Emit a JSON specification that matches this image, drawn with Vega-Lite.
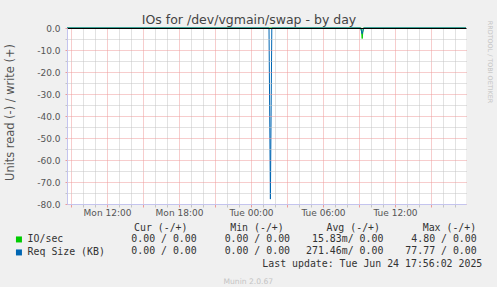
{
  "$schema": "https://vega.github.io/schema/vega-lite/v6.json",
  "width": 399,
  "height": 176,
  "autosize": {"type": "none"},
  "padding": {"left": 67, "top": 28, "right": 31, "bottom": 83},
  "background": "#f0f0f0",
  "title": {
    "text": "IOs for /dev/vgmain/swap - by day",
    "font": "DejaVu Sans",
    "fontSize": 12.5,
    "fontWeight": "normal",
    "color": "#444444",
    "anchor": "middle",
    "frame": "group",
    "dx": -17.5,
    "dy": 18,
    "offset": 2,
    "baseline": "alphabetic"
  },
  "config": {
    "font": "DejaVu Sans",
    "view": {"stroke": null, "fill": "#ffffff"}
  },
  "resolve": {"scale": {"x": "independent", "y": "independent"}},
  "layer": [
    {
      "data": {
        "values": [
          {"t": "2025-06-23T08:40:00Z", "series": "IO/sec", "v": 0},
          {"t": "2025-06-24T09:11:00Z", "series": "IO/sec", "v": 0},
          {"t": "2025-06-24T09:16:00Z", "series": "IO/sec", "v": -4.8},
          {"t": "2025-06-24T09:21:00Z", "series": "IO/sec", "v": 0},
          {"t": "2025-06-24T17:55:00Z", "series": "IO/sec", "v": 0},
          {"t": "2025-06-23T08:40:00Z", "series": "Req Size (KB)", "v": 0},
          {"t": "2025-06-24T01:30:00Z", "series": "Req Size (KB)", "v": 0},
          {"t": "2025-06-24T01:37:00Z", "series": "Req Size (KB)", "v": -77.77},
          {"t": "2025-06-24T01:44:00Z", "series": "Req Size (KB)", "v": 0},
          {"t": "2025-06-24T09:08:00Z", "series": "Req Size (KB)", "v": 0},
          {"t": "2025-06-24T09:16:00Z", "series": "Req Size (KB)", "v": -2.6},
          {"t": "2025-06-24T09:24:00Z", "series": "Req Size (KB)", "v": 0},
          {"t": "2025-06-24T17:55:00Z", "series": "Req Size (KB)", "v": 0}
        ]
      },
      "mark": {"type": "line", "strokeWidth": 1},
      "encoding": {
        "x": {
          "field": "t",
          "type": "temporal",
          "scale": {"type": "utc", "domain": [1750668000000, 1750787700000], "nice": false},
          "axis": {
            "values": [1750669200000, 1750672800000, 1750676400000, 1750680000000, 1750683600000, 1750687200000, 1750690800000, 1750694400000, 1750698000000, 1750701600000, 1750705200000, 1750708800000, 1750712400000, 1750716000000, 1750719600000, 1750723200000, 1750726800000, 1750730400000, 1750734000000, 1750737600000, 1750741200000, 1750744800000, 1750748400000, 1750752000000, 1750755600000, 1750759200000, 1750762800000, 1750766400000, 1750770000000, 1750773600000, 1750777200000, 1750780800000, 1750784400000],
            "zindex": 1,
            "grid": true,
            "gridColor": {"condition": {"test": "utchours(datum.value) % 3 === 0", "value": "#ee9a9a"}, "value": "#c4c4c4"},
            "gridDash": [1, 1],
            "gridWidth": 1,
            "ticks": true,
            "tickSize": 3,
            "tickColor": {"condition": {"test": "utchours(datum.value) % 3 === 0", "value": "#ee9a9a"}, "value": "#c4c4c4"},
            "domain": true,
            "domainColor": "#c4c4ee",
            "domainWidth": 1,
            "labelExpr": "utchours(datum.value) % 6 === 0 ? utcFormat(datum.value, '%a %H:%M') : ''",
            "labelFont": "DejaVu Sans",
            "labelFontSize": 9,
            "labelColor": "#555555",
            "labelPadding": 1,
            "labelOverlap": false,
            "labelFlush": false,
            "labelBound": false,
            "title": "Munin 2.0.67",
            "titleFont": "DejaVu Sans",
            "titleFontSize": 7.6,
            "titleFontWeight": "normal",
            "titleColor": "#c4c4c4",
            "titleX": 180.8,
            "titleY": 77,
            "titleAlign": "center",
            "titleBaseline": "middle"
          }
        },
        "y": {
          "field": "v",
          "type": "quantitative",
          "scale": {"domain": [-80, 0], "nice": false, "zero": false},
          "axis": {
            "values": [-80, -75, -70, -65, -60, -55, -50, -45, -40, -35, -30, -25, -20, -15, -10, -5, 0],
            "zindex": 1,
            "grid": true,
            "gridColor": {"condition": [{"test": "datum.value === 0", "value": "#000000"}, {"test": "datum.value % 10 === 0", "value": "#ee9a9a"}], "value": "#c4c4c4"},
            "gridDash": {"condition": {"test": "datum.value === 0", "value": []}, "value": [1, 1]},
            "gridWidth": 1,
            "ticks": true,
            "tickSize": 2,
            "tickColor": {"condition": {"test": "datum.value % 10 === 0", "value": "#ee9a9a"}, "value": "#c4c4c4"},
            "domain": true,
            "domainColor": "#c4c4ee",
            "domainWidth": 1,
            "labelExpr": "datum.value % 10 === 0 ? datum.value + '.0' : ''",
            "labelFont": "DejaVu Sans",
            "labelFontSize": 9,
            "labelColor": "#555555",
            "labelPadding": 5,
            "labelOverlap": false,
            "labelBound": false,
            "title": "Units read (-) / write (+)",
            "titleFont": "DejaVu Sans",
            "titleFontSize": 11.4,
            "titleFontWeight": "normal",
            "titleColor": "#555555",
            "titleAngle": -90,
            "titleX": -57,
            "titleY": 84,
            "titleAlign": "center",
            "titleBaseline": "middle"
          }
        },
        "color": {
          "field": "series",
          "type": "nominal",
          "scale": {"domain": ["IO/sec", "Req Size (KB)"], "range": ["#00cc00", "#0066b3"]},
          "legend": {
            "orient": "none",
            "legendX": -53,
            "legendY": 206.5,
            "title": null,
            "direction": "vertical",
            "symbolType": "square",
            "symbolSize": 9,
            "symbolStrokeWidth": 3,
            "labelFont": "DejaVu Sans Mono",
            "labelFontSize": 9.9,
            "labelColor": "#333333",
            "labelOffset": 3.7,
            "rowPadding": -4,
            "padding": 0
          }
        }
      }
    },
    {
      "layer": [
        {
          "mark": {"type": "point", "shape": "triangle-up", "filled": true, "color": "#b4bcf0", "size": 30, "opacity": 1},
          "encoding": {
            "x": {"datum": 1750668000000, "type": "temporal", "scale": {"type": "utc", "domain": [1750668000000, 1750787700000], "nice": false}, "axis": null},
            "y": {"datum": 1.7, "type": "quantitative", "scale": {"domain": [-80, 0], "nice": false, "zero": false}, "axis": null}
          }
        },
        {
          "mark": {"type": "point", "shape": "triangle-right", "filled": true, "color": "#b4bcf0", "size": 30, "opacity": 1},
          "encoding": {
            "x": {"datum": 1750789200000, "type": "temporal", "axis": null},
            "y": {"datum": -80, "type": "quantitative", "axis": null}
          }
        }
      ]
    },
    {
      "data": {
        "values": [
          {"series": "IO/sec", "stat": "Cur", "text": "0.00 / 0.00"},
          {"series": "IO/sec", "stat": "Min", "text": "0.00 / 0.00"},
          {"series": "IO/sec", "stat": "Avg", "text": "15.83m/ 0.00"},
          {"series": "IO/sec", "stat": "Max", "text": "4.80 / 0.00"},
          {"series": "Req Size (KB)", "stat": "Cur", "text": "0.00 / 0.00"},
          {"series": "Req Size (KB)", "stat": "Min", "text": "0.00 / 0.00"},
          {"series": "Req Size (KB)", "stat": "Avg", "text": "271.46m/ 0.00"},
          {"series": "Req Size (KB)", "stat": "Max", "text": "77.77 / 0.00"}
        ]
      },
      "mark": {"type": "text", "align": "right", "baseline": "middle", "font": "DejaVu Sans Mono", "fontSize": 9.9, "color": "#333333"},
      "encoding": {
        "x": {"field": "stat", "type": "nominal", "scale": {"type": "point", "domain": ["Cur", "Min", "Avg", "Max"], "range": [129.7, 409.7], "padding": 0}, "axis": null},
        "y": {
          "field": "series",
          "type": "nominal",
          "scale": {"type": "point", "domain": ["IO/sec", "Req Size (KB)"], "range": [211.3, 223.3], "padding": 0},
          "axis": {
            "orient": "right",
            "domain": false,
            "labels": false,
            "ticks": false,
            "grid": false,
            "title": "RRDTOOL / TOBI OETIKER",
            "titleFont": "DejaVu Sans",
            "titleFontSize": 6.4,
            "titleFontWeight": "normal",
            "titleColor": "#c4c4c4",
            "titleAngle": 90,
            "titleX": 23,
            "titleY": 33.5,
            "titleAlign": "center",
            "titleBaseline": "middle"
          }
        },
        "text": {"field": "text"}
      }
    },
    {
      "data": {
        "values": [
          {"h": "Cur (-/+)", "row": "header"},
          {"h": "Min (-/+)", "row": "header"},
          {"h": "Avg (-/+)", "row": "header"},
          {"h": "Max (-/+)", "row": "header"}
        ]
      },
      "mark": {"type": "text", "align": "left", "baseline": "middle", "font": "DejaVu Sans Mono", "fontSize": 9.9, "color": "#333333"},
      "encoding": {
        "x": {"field": "h", "type": "nominal", "scale": {"type": "point", "domain": ["Cur (-/+)", "Min (-/+)", "Avg (-/+)", "Max (-/+)"], "range": [67, 355.7], "padding": 0}, "axis": null},
        "y": {"field": "row", "type": "nominal", "scale": {"type": "point", "domain": ["header"], "range": [200.3, 200.3], "padding": 0}, "axis": null},
        "text": {"field": "h"}
      }
    },
    {
      "data": {
        "values": [
          {"row": "update", "text": "Last update: Tue Jun 24 17:56:02 2025"}
        ]
      },
      "mark": {"type": "text", "align": "right", "baseline": "middle", "font": "DejaVu Sans Mono", "fontSize": 9.9, "color": "#333333"},
      "encoding": {
        "x": {"field": "row", "type": "nominal", "scale": {"type": "point", "domain": ["update"], "range": [415.3, 415.3], "padding": 0}, "axis": null},
        "y": {"field": "row", "type": "nominal", "scale": {"type": "point", "domain": ["update"], "range": [235.7, 235.7], "padding": 0}, "axis": null},
        "text": {"field": "text"}
      }
    }
  ]
}
